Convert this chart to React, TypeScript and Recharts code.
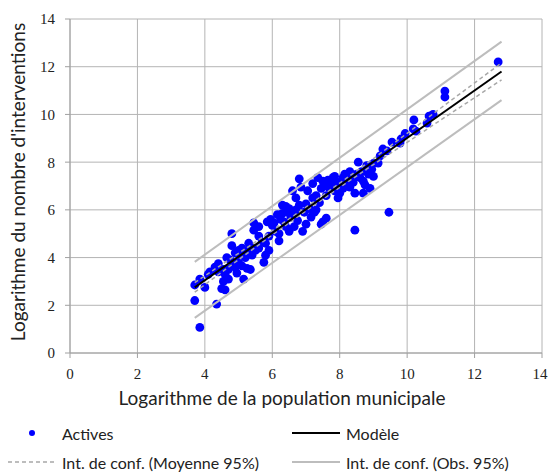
import React from 'react';
import { ScatterChart, Scatter, XAxis, YAxis, CartesianGrid, Label } from 'recharts';

// observed communes: [log population, log interventions]
const actives: [number, number][] = [
  [3.7, 2.85], [3.7, 2.2], [3.85, 3.1], [3.85, 1.07], [4.0, 2.75], [4.1, 3.3], [4.15, 3.4],
  [4.35, 2.05], [4.3, 3.6], [4.4, 3.75], [4.5, 2.7], [4.55, 3.0], [4.6, 2.65], [4.6, 3.3],
  [4.65, 4.0], [4.7, 3.5], [4.75, 3.9], [4.8, 4.5], [4.8, 5.0], [4.85, 3.7], [4.9, 3.6],
  [4.9, 4.2], [4.95, 3.35], [5.0, 4.3], [5.0, 3.8], [4.55, 3.5], [4.4, 3.4], [4.7, 3.1],
  [5.05, 4.15], [5.1, 3.65], [5.1, 4.4], [5.15, 3.1], [5.2, 4.0], [5.25, 3.55], [5.3, 4.6],
  [5.35, 3.5], [5.4, 4.1], [5.45, 5.15], [5.45, 5.45], [5.5, 4.3], [5.35, 4.45], [5.25, 4.25],
  [5.6, 4.4], [5.6, 5.3], [5.7, 4.65], [5.75, 3.8], [5.8, 4.1], [5.85, 5.5], [5.9, 4.3],
  [5.9, 4.9], [5.95, 5.6], [6.0, 5.35], [5.6, 4.9], [5.8, 4.6],
  [6.05, 5.45], [6.1, 5.1], [6.15, 5.8], [6.2, 5.0], [6.25, 5.6], [6.3, 6.2], [6.35, 5.5],
  [6.4, 5.3], [6.45, 5.9], [6.5, 6.05], [6.2, 4.7], [6.3, 5.85], [6.4, 6.15], [6.5, 5.1],
  [6.55, 5.7], [6.6, 6.8], [6.65, 5.3], [6.7, 6.0], [6.75, 5.55], [6.8, 6.2], [6.8, 7.3],
  [6.85, 6.95], [6.9, 5.1], [6.95, 5.9], [7.0, 6.25], [6.6, 5.8], [6.7, 6.5], [7.0, 5.4],
  [7.05, 6.8], [7.1, 6.05], [7.15, 5.7], [7.2, 7.1], [7.2, 6.5], [7.25, 5.9], [7.3, 6.6],
  [7.35, 7.35], [7.4, 6.3], [7.45, 6.9], [7.5, 7.2], [7.5, 5.5], [7.3, 6.0], [7.45, 5.4],
  [7.6, 5.65], [7.55, 7.0], [7.6, 6.6], [7.65, 7.25], [7.7, 6.9], [7.75, 7.1], [7.8, 7.35],
  [7.85, 6.8], [7.9, 7.15], [7.95, 6.5], [8.0, 7.0], [7.7, 7.05], [7.85, 7.4], [8.0, 6.7],
  [8.05, 7.2], [8.1, 6.9], [8.15, 7.5], [8.2, 7.05], [8.25, 7.3], [8.3, 7.6], [8.3, 6.95],
  [8.35, 7.25], [8.4, 7.15], [8.45, 6.7], [8.5, 7.5], [8.55, 8.0], [8.1, 7.35], [8.45, 7.4],
  [8.45, 5.15], [8.6, 7.35], [8.65, 7.6], [8.7, 7.2], [8.75, 7.05], [8.8, 7.85], [8.85, 7.5],
  [8.9, 6.9], [8.95, 7.7], [9.0, 7.95], [9.0, 7.4], [8.7, 6.7],
  [9.14, 7.96], [9.2, 8.26], [9.28, 8.55], [9.4, 8.47], [9.55, 8.84], [9.46, 5.9], [9.79, 8.8],
  [9.82, 8.97], [9.94, 9.2], [10.18, 9.39], [10.26, 9.3], [10.2, 9.77], [10.59, 9.64],
  [10.65, 9.93], [10.77, 10.0], [11.12, 10.98], [11.12, 10.73], [12.7, 12.2],
];

// regression line
const modelX = [3.7, 12.8];
const modelY = [2.75, 11.8];

// confidence interval on the mean
const meanCiX = [3.7, 5, 6, 7, 8, 9, 10, 11, 12, 12.8];
const meanUpper = [2.95, 4.18, 5.13, 6.11, 7.12, 8.15, 9.21, 10.27, 11.32, 12.16];
const meanLower = [2.55, 3.91, 4.95, 5.96, 6.94, 7.9, 8.83, 9.77, 10.7, 11.45];

// confidence interval on observations
const obsCiX = [3.7, 12.8];
const obsUpper = [3.82, 13.05];
const obsLower = [1.47, 10.6];

const ticks = [0, 2, 4, 6, 8, 10, 12, 14];

const SANS = 'Lato, "Open Sans", sans-serif';
const SERIF = '"Liberation Serif", "DejaVu Serif", serif';

const toPts = (xs: number[], ys: number[]) => xs.map((x, i) => ({ x, y: ys[i] }));

const Dot = (props: any) => <circle cx={props.cx} cy={props.cy} r={4.4} fill="#0000ff" />;
const NoDot = () => <g />;

const XTick = (p: any) => (
  <text x={p.x} y={p.y} dy="0.85em" textAnchor="middle" fill="#222" fontFamily={SERIF} fontSize={15}>
    {p.payload.value}
  </text>
);
const YTick = (p: any) => (
  <text x={p.x} y={p.y} dy="0.36em" textAnchor="end" fill="#222" fontFamily={SERIF} fontSize={15}>
    {p.payload.value}
  </text>
);

const LegendRow = ({ top, items }: { top: number; items: { left: number; icon: React.ReactNode; text: string }[] }) => (
  <>
    {items.map((it) => (
      <div key={it.text} style={{ position: 'absolute', top, left: it.left, height: 20, display: 'flex', alignItems: 'center' }}>
        <svg width={48} height={20} style={{ marginRight: 6 }}>{it.icon}</svg>
        <span style={{ fontFamily: SANS, fontSize: 16, color: '#222' }}>{it.text}</span>
      </div>
    ))}
  </>
);

export default function App() {
  const actData = actives.map(([x, y]) => ({ x, y }));

  return (
    <div style={{ position: 'absolute', left: 0, top: 0, width: 548, height: 473, background: '#fff' }}>
      <ScatterChart width={548} height={473} margin={{ top: 19, right: 6, bottom: 70, left: 0 }}>
        <CartesianGrid stroke="#b4b4b4" />
        <XAxis
          type="number"
          dataKey="x"
          domain={[0, 14]}
          ticks={ticks}
          height={50}
          tickSize={5}
          tickMargin={8}
          stroke="#a0a0a0"
          tick={XTick}
        >
          <Label value="Logarithme de la population municipale" position="center" dx={-24} dy={20} style={{ fontFamily: SANS, fontSize: 19, fill: '#222' }} />
        </XAxis>
        <YAxis
          type="number"
          dataKey="y"
          domain={[0, 14]}
          ticks={ticks}
          width={70}
          tickSize={5}
          tickMargin={10}
          stroke="#a0a0a0"
          tick={YTick}
        >
          <Label value="Logarithme du nombre d'interventions" angle={-90} position="center" dx={-17} dy={-4} style={{ fontFamily: SANS, fontSize: 19, fill: '#222' }} />
        </YAxis>
        <Scatter name="Actives" data={actData} shape={Dot} isAnimationActive={false} />
        <Scatter data={toPts(obsCiX, obsUpper)} line={{ stroke: '#bdbdbd', strokeWidth: 2 }} lineType="joint" shape={NoDot} isAnimationActive={false} />
        <Scatter data={toPts(obsCiX, obsLower)} line={{ stroke: '#bdbdbd', strokeWidth: 2 }} lineType="joint" shape={NoDot} isAnimationActive={false} />
        <Scatter data={toPts(meanCiX, meanUpper)} line={{ stroke: '#a8a8a8', strokeWidth: 1.5, strokeDasharray: '4 3' }} lineType="joint" shape={NoDot} isAnimationActive={false} />
        <Scatter data={toPts(meanCiX, meanLower)} line={{ stroke: '#a8a8a8', strokeWidth: 1.5, strokeDasharray: '4 3' }} lineType="joint" shape={NoDot} isAnimationActive={false} />
        <Scatter name="Modèle" data={toPts(modelX, modelY)} line={{ stroke: '#000', strokeWidth: 2 }} lineType="joint" shape={NoDot} isAnimationActive={false} />
      </ScatterChart>
      <LegendRow
        top={423}
        items={[
          { left: 8, icon: <circle cx={24} cy={10} r={3} fill="#0000ff" />, text: 'Actives' },
          { left: 292, icon: <line x1={0} x2={48} y1={10} y2={10} stroke="#000" strokeWidth={2} />, text: 'Modèle' },
        ]}
      />
      <LegendRow
        top={452}
        items={[
          { left: 8, icon: <line x1={0} x2={48} y1={10} y2={10} stroke="#a8a8a8" strokeWidth={1.5} strokeDasharray="4 3" />, text: 'Int. de conf. (Moyenne 95%)' },
          { left: 292, icon: <line x1={0} x2={48} y1={10} y2={10} stroke="#bdbdbd" strokeWidth={2} />, text: 'Int. de conf. (Obs. 95%)' },
        ]}
      />
    </div>
  );
}
